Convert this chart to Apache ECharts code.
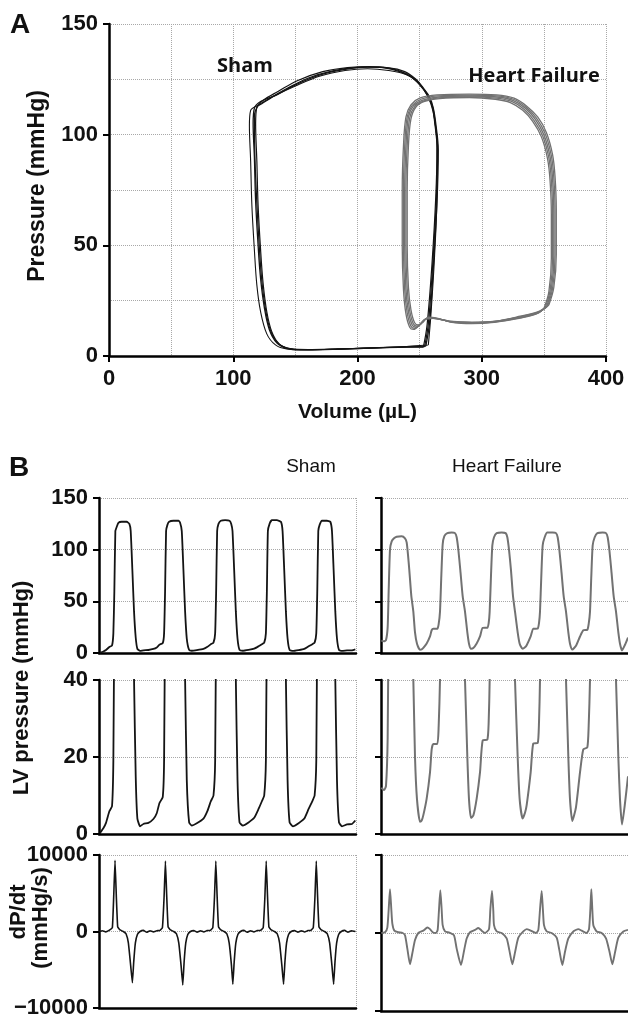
<!DOCTYPE html>
<html>
<head>
<meta charset="utf-8">
<script src="https://cdn.jsdelivr.net/npm/echarts@6/dist/echarts.min.js"></script>
<style>html,body{margin:0;padding:0;background:#fff}#c{width:628px;height:1019px}</style>
</head>
<body>
<div id="c"></div>
<script>
// ---------- Panel A: pressure-volume loops (volume µL, pressure mmHg) ----------
const shamLoop1 = [[255,4.5],[258,15],[261,40],[264,70],[265,93],[263,105],[261,112],[258,117],[253,121],[247,125],[238,128.5],[225,130.2],[208,130.5],[190,129.5],[170,127],[150,122.5],[135,118],[122,115],[117,112],[116,105],[117,90],[118,70],[120,50],[122,35],[125,22],[129,12],[135,6],[143,3.5],[155,2.8],[180,3],[205,3.5],[230,4],[255,4.5]];
const shamLoop2 = [[257,5],[259,18],[262,45],[264,75],[264,95],[262,107],[259,114],[255,119],[249,123.5],[240,127],[225,129],[208,129.8],[190,129],[170,126.5],[150,122],[135,118],[123,114],[114,111],[113,104],[114,88],[115,68],[117,48],[119,32],[122,20],[127,10],[134,5],[143,3.2],[160,2.8],[185,3.1],[210,3.6],[235,4.2],[257,5]];
const shamLoop3 = [[253,4],[256,14],[260,42],[263,72],[264,94],[262,106],[260,113],[256,118],[250,122.5],[242,126.5],[228,129.5],[210,130.8],[192,130.3],[172,128.5],[152,124.5],[136,119.5],[124,115.5],[119,112.5],[118,105],[119,88],[120,68],[122,48],[124,33],[127,20],[131,11],[137,5.5],[146,3.3],[160,2.9],[185,3.2],[210,3.6],[233,3.9],[253,4]];
const shamLoop4 = [[254,4.2],[257,14.5],[260.5,41],[263.5,71],[264.5,93.5],[262.5,105.5],[260.5,112.5],[257,117.5],[251.5,121.8],[244.5,125.8],[233,129],[217,130.6],[200,130.4],[180,128.8],[160,125.5],[142,120.5],[128,116],[120,113],[117,108],[117.5,89],[119,69],[121,49],[123,34],[126,21],[130,11.5],[136,5.8],[145,3.4],[158,2.85],[183,3.1],[208,3.55],[232,3.95],[254,4.2]];
const hfLoop1 = [[352,22],[356,30],[358,45],[358,65],[357,80],[355,90],[350,100],[343,107],[335,112],[325,115.5],[312,117],[290,117.5],[265,117],[252,115.5],[245,113],[241,108],[239,95],[238,75],[238,50],[239,30],[241,20],[244,14],[247,13],[251,14.5],[256,17],[262,17],[275,15.5],[292,15],[310,15.5],[330,17.5],[345,19.5],[352,22]];
const hfLoop2 = [[354,23],[358,31],[360,46],[360,66],[359,81],[357,91],[352,101],[345,108],[336,113],[326,116.5],[312,118],[290,118.3],[264,118],[250,116.5],[243,113.5],[239,108],[237,95],[236,75],[236,50],[237,30],[239,19],[242,13],[245,12],[249,13.5],[254,16.5],[260,17],[274,15.8],[292,15.3],[311,15.8],[331,18],[346,20.2],[354,23]];
const hfLoop3 = [[350,21.5],[354,29],[356,44],[356,64],[355,79],[353,89],[348,99],[341,106],[333,111],[323,114.5],[311,116],[290,116.8],[266,116.3],[254,115],[247,112.5],[243,107],[241,95],[240,75],[240,50],[241,31],[243,21],[246,15],[249,14],[253,15.5],[257,17.5],[263,17.2],[276,15.2],[292,14.6],[310,15.2],[330,17],[344,19],[350,21.5]];
const hfLoop4 = [[353,22.5],[357,30.5],[359,45.5],[359,65.5],[358,80.5],[356,90.5],[351,100.5],[344,107.5],[335.5,112.5],[325.5,116],[312,117.5],[290,117.9],[264.5,117.5],[251,116],[244,113.2],[240,108],[238,95],[237,75],[237,50],[238,30],[240,19.5],[243,13.5],[246,12.5],[250,14],[255,16.8],[261,17],[274.5,15.6],[292,15.1],[310.5,15.6],[330.5,17.7],[345.5,19.8],[353,22.5]];
const hfLoop5 = [[351,21.8],[355,29.5],[357,44.5],[357,64.5],[356,79.5],[354,89.5],[349,99.5],[342,106.5],[334,111.5],[324,115],[311.5,116.5],[290,117.1],[265.5,116.6],[253,115.2],[246,112.7],[242,107.5],[240,95],[239,75],[239,50],[240,30.5],[242,20.5],[245,14.5],[248,13.5],[252,15],[256.5,17.2],[262.5,17.1],[275.5,15.3],[292,14.8],[310,15.3],[330,17.2],[344.5,19.2],[351,21.8]];

// ---------- Panel B: time traces (time ms, LV pressure mmHg, dP/dt mmHg/s) ----------
const shamPressure = [[3,0.3],[13,1.5],[21,2.9],[31,5.9],[39,7.2],[43,19],[46,60],[49,118],[53,122],[58,126],[68,127],[83,127],[91,125],[95,118],[100,80],[105,40],[110,15],[115,4],[123,2],[133,2.6],[148,2.9],[163,3.9],[173,5.4],[181,8],[191,9.6],
[195,19],[198,60],[201,118],[205,124],[210,127],[223,128],[238,128],[243,126],[248,118],[253,80],[258,40],[263,14],[270,3],[278,2.2],[293,2.8],[313,4],[325,6],[335,8.5],[343,10],
[348,19],[351,60],[354,118],[358,125],[365,128],[378,128.5],[391,128],[396,125],[400,118],[405,80],[410,40],[415,14],[421,3],[431,2.2],[448,3],[465,4.2],[478,6.5],[488,8.5],[495,10],
[500,19],[503,60],[506,118],[511,125],[518,128.5],[533,128.5],[545,127],[550,118],[555,80],[560,40],[565,14],[571,3],[581,2],[598,2.8],[615,4],[628,6.5],[639,8.5],[646,10],
[651,19],[654,60],[657,118],[661,124],[668,128],[683,128],[693,127],[698,118],[703,80],[708,40],[713,14],[719,3],[728,2],[743,2.5],[758,2.6],[768,3.5]];
const hfPressure = [[1,12],[9,11.4],[15,12.5],[20,25],[23,60],[27,100],[32,108],[39,111],[47,112.5],[62,113],[72,111],[77,107],[81,95],[85,80],[91,55],[97,40],[102,20],[108,9],[117,3.2],[122,3.5],[127,4.9],[137,9.2],[147,16],[152,22],[157,23.4],[169,23.4],[173,28],[177,40],[181,75],[185,105],[190,113],[199,116],[212,116.5],[222,116],[227,112],[232,100],[238,80],[245,55],[252,40],[259,20],[264,9],[270,4.2],[277,4.8],[287,9.2],[297,16],[305,24.3],[319,24.5],[323,29],[326,40],[330,75],[334,104],[339,112],[347,116],[362,116.5],[374,116],[379,112],[384,100],[390,80],[396,55],[402,40],[410,20],[416,9],[425,4],[432,5.5],[437,7.5],[449,16],[457,23.5],[470,23.6],[474,29],[477,40],[481,75],[485,104],[491,112],[499,116.5],[515,116.5],[525,116],[530,112],[535,100],[541,80],[548,55],[555,40],[562,20],[567,9],[574,3.4],[585,7],[597,16],[607,22],[619,22.5],[623,28],[627,40],[631,75],[635,104],[641,112],[649,116],[665,116.5],[675,116],[680,112],[685,100],[691,80],[698,55],[705,40],[712,20],[717,9],[723,2.5],[732,8],[741,15]];
const shamDpdt = [[0,0],[10,100],[20,-50],[30,150],[40,500],[44,4500],[48,9300],[52,4500],[56,600],[63,200],[73,0],[81,-300],[88,-1500],[95,-4500],[100,-6700],[104,-4000],[109,-1500],[115,-400],[123,0],[133,150],[143,-100],[153,100],[163,-50],[173,100],[183,150],[190,500],[195,4500],[199,9200],[203,4500],[207,600],[214,200],[224,0],[232,-300],[239,-1500],[246,-4500],[251,-7000],[255,-4000],[260,-1500],[266,-400],[274,0],[284,120],[294,-80],[304,100],[314,-60],[324,120],[334,150],[341,500],[346,4500],[350,9200],[354,4500],[358,600],[365,200],[375,0],[383,-300],[390,-1500],[397,-4500],[401,-6900],[405,-4000],[410,-1500],[416,-400],[424,0],[434,150],[444,-100],[454,100],[464,-60],[474,120],[484,150],[492,500],[497,4500],[501,9200],[505,4500],[509,600],[516,200],[526,0],[534,-300],[541,-1500],[548,-4500],[553,-6900],[557,-4000],[562,-1500],[568,-400],[576,0],[586,120],[596,-80],[606,100],[616,-60],[626,120],[635,150],[642,500],[647,4500],[651,9200],[655,4500],[659,600],[666,200],[676,0],[684,-300],[691,-1500],[698,-4500],[703,-6900],[707,-4000],[712,-1500],[718,-400],[726,0],[736,150],[746,-100],[756,100],[768,0]];
const hfDpdt = [[1,0],[12,100],[19,700],[23,3000],[27,5600],[31,3000],[34,1200],[40,300],[52,100],[65,0],[72,-300],[79,-2000],[87,-4000],[94,-2600],[102,-900],[112,0],[127,300],[139,700],[147,500],[155,100],[165,0],[170,400],[174,3000],[178,5500],[182,3000],[185,1000],[192,200],[205,50],[219,-300],[227,-2000],[240,-4100],[249,-2300],[257,-700],[267,100],[282,400],[292,650],[302,300],[312,0],[324,500],[328,3000],[333,5400],[337,2800],[339,1000],[347,200],[362,0],[377,-700],[385,-2200],[394,-4000],[402,-2500],[412,-600],[427,200],[437,500],[447,350],[465,0],[472,400],[477,3000],[482,5400],[486,2800],[489,1000],[497,200],[512,0],[527,-600],[535,-2200],[544,-4100],[552,-2400],[562,-700],[577,200],[592,500],[602,300],[617,0],[624,500],[628,3000],[631,5600],[634,3000],[637,1000],[647,200],[662,0],[675,-700],[685,-2300],[694,-4000],[702,-2500],[712,-600],[727,200],[741,400]];

// axis ranges / ticks
const volTicks = [0, 400, 100];      // min, max, interval
const presTicksA = [0, 150, 50];
const presTicksB = [0, 150, 50];
const presZoomTicks = [0, 40, 20];
const dpdtTicks = [-10000, 10000, 10000];
const timeLeftMax = 770, timeRightMax = 741;

const SHAM = '#141414', HF = '#727272';
const FONT = '"Liberation Sans", Arial, sans-serif';
const grid = '#a8a8a8';

function yAx(gi, t, showLabels, extra) {
  return Object.assign({
    type: 'value', gridIndex: gi, min: t[0], max: t[1], interval: t[2],
    axisLine: { show: true, lineStyle: { color: '#000', width: 2.5 } },
    axisTick: { show: true, length: 6, lineStyle: { color: '#000', width: 2 } },
    axisLabel: { show: showLabels, color: '#111', fontFamily: FONT, fontWeight: 'bold', fontSize: 22, margin: 11,
      formatter: v => (v < 0 ? '\u2212' + Math.abs(v) : String(v)) },
    splitLine: { show: true, lineStyle: { color: grid, type: [1, 1], width: 1 } }
  }, extra || {});
}
function xAxTime(gi, max) {
  return {
    type: 'value', gridIndex: gi, min: 0, max: max, interval: max,
    axisLine: { show: true, onZero: false, lineStyle: { color: '#000', width: 2.5 } },
    axisTick: { show: false }, axisLabel: { show: false },
    splitLine: { show: true, lineStyle: { color: grid, type: [1, 1], width: 1 } }
  };
}

const grids = [
  { left: 109, top: 24, width: 497, height: 332 },
  { left: 99, top: 498, width: 257, height: 155 },
  { left: 381, top: 498, width: 247, height: 155 },
  { left: 99, top: 680, width: 257, height: 154 },
  { left: 381, top: 680, width: 247, height: 154 },
  { left: 99, top: 855, width: 257, height: 156 },
  { left: 381, top: 855, width: 247, height: 156 }
];

const xAxes = [
  { type: 'value', gridIndex: 0, min: volTicks[0], max: volTicks[1], interval: volTicks[2],
    axisLine: { show: true, onZero: false, lineStyle: { color: '#000', width: 2.5 } },
    axisTick: { show: true, length: 6, lineStyle: { color: '#000', width: 2 } },
    axisLabel: { color: '#111', fontFamily: FONT, fontWeight: 'bold', fontSize: 22, margin: 12 },
    splitLine: { show: true, lineStyle: { color: grid, type: [1, 1], width: 1 } },
    minorTick: { show: false, splitNumber: 2 },
    minorSplitLine: { show: true, lineStyle: { color: grid, type: [1, 1], width: 1 } },
    name: 'Volume (\u00b5L)', nameLocation: 'middle', nameGap: 46,
    nameTextStyle: { color: '#111', fontFamily: FONT, fontWeight: 'bold', fontSize: 21 } },
  xAxTime(1, timeLeftMax), xAxTime(2, timeRightMax),
  xAxTime(3, timeLeftMax), xAxTime(4, timeRightMax),
  xAxTime(5, timeLeftMax), xAxTime(6, timeRightMax)
];
const yAxes = [
  yAx(0, presTicksA, true, {
    minorTick: { show: false, splitNumber: 2 },
    minorSplitLine: { show: true, lineStyle: { color: grid, type: [1, 1], width: 1 } } }),
  yAx(1, presTicksB, true), yAx(2, presTicksB, false),
  yAx(3, presZoomTicks, true), yAx(4, presZoomTicks, false),
  yAx(5, dpdtTicks, true), yAx(6, dpdtTicks, false)
];

function ln(data, gi, color, w, smooth) {
  return { type: 'line', data: data, xAxisIndex: gi, yAxisIndex: gi, showSymbol: false, symbol: 'none',
    smooth: smooth || false, clip: true, lineStyle: { color: color, width: w }, z: 3 };
}
const series = [
  ln(shamLoop2, 0, SHAM, 1.1, 0.35), ln(shamLoop3, 0, SHAM, 1.2, 0.35), ln(shamLoop4, 0, SHAM, 1.2, 0.35), ln(shamLoop1, 0, SHAM, 1.3, 0.35),
  ln(hfLoop2, 0, HF, 1.3, 0.35), ln(hfLoop3, 0, HF, 1.3, 0.35), ln(hfLoop4, 0, HF, 1.3, 0.35), ln(hfLoop5, 0, HF, 1.3, 0.35), ln(hfLoop1, 0, HF, 1.4, 0.35),
  ln(shamPressure, 1, SHAM, 1.8, 0.15), ln(hfPressure, 2, HF, 2, 0.2),
  ln(shamPressure, 3, SHAM, 1.8, 0.15), ln(hfPressure, 4, HF, 2, 0.2),
  ln(shamDpdt, 5, SHAM, 1.6, 0.1), ln(hfDpdt, 6, HF, 1.9, 0.2)
];

function txt(x, y, text, font, rot, extra) {
  return Object.assign({ type: 'text', x: x, y: y, rotation: rot || 0, z: 10,
    style: { text: text, font: font, fill: '#111', textAlign: 'center', textVerticalAlign: 'middle',
      align: 'center', verticalAlign: 'middle' } }, extra || {});
}
const graphic = [
  txt(20, 25, 'A', 'bold 28px ' + FONT),
  txt(19, 468, 'B', 'bold 28px ' + FONT),
  txt(38, 186, 'Pressure (mmHg)', 'bold 23px ' + FONT, Math.PI / 2),
  txt(245, 66, 'Sham', 'bold 20px "Open Sans", sans-serif'),
  txt(534, 76, 'Heart Failure', 'bold 20px "Open Sans", sans-serif'),
  txt(311, 467, 'Sham', '19px ' + FONT),
  txt(507, 467, 'Heart Failure', '19px ' + FONT),
  txt(22, 688, 'LV pressure (mmHg)', 'bold 22px ' + FONT, Math.PI / 2),
  txt(19, 912, 'dP/dt', 'bold 22px ' + FONT, Math.PI / 2),
  txt(41, 918, '(mmHg/s)', 'bold 22px ' + FONT, Math.PI / 2)
];

const chart = echarts.init(document.getElementById('c'), null, { renderer: 'canvas' });
chart.setOption({
  animation: false,
  backgroundColor: '#fff',
  grid: grids, xAxis: xAxes, yAxis: yAxes, series: series, graphic: graphic
});
</script>
</body>
</html>
